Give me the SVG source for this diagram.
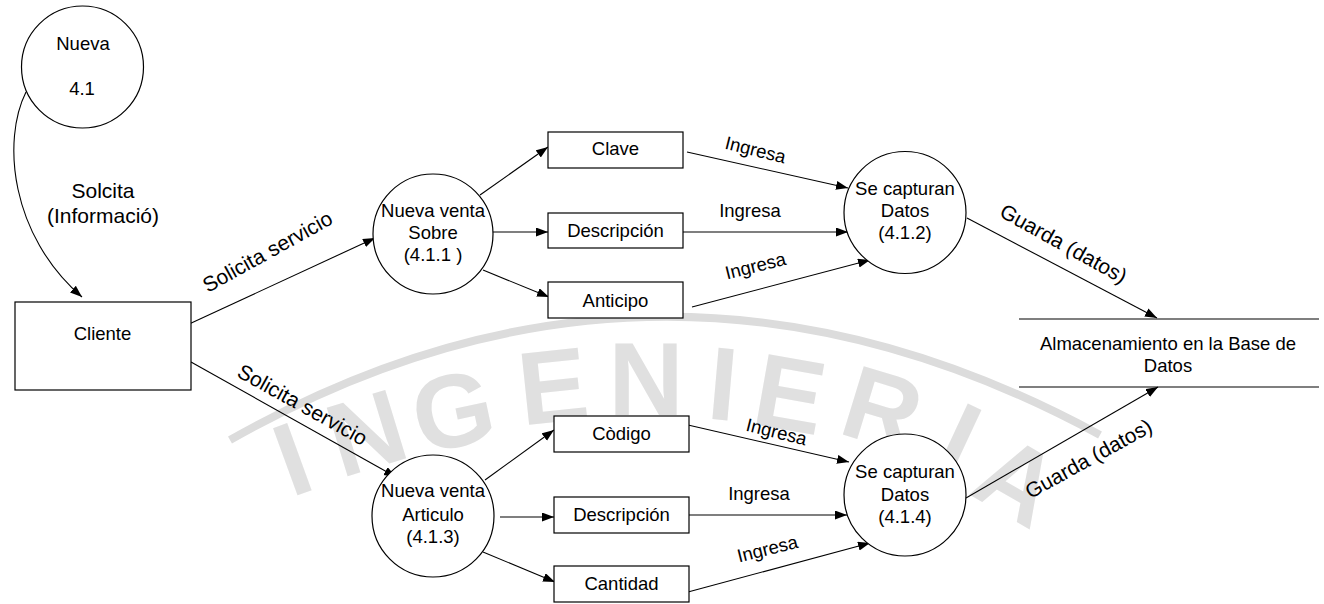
<svg xmlns="http://www.w3.org/2000/svg" width="1324" height="604" viewBox="0 0 1324 604">
<style>
.ln{fill:none;stroke:#000;stroke-width:1.1}
.bx{fill:#fff;stroke:#000;stroke-width:1.2}
.ci{fill:#fff;stroke:#000;stroke-width:1.2}
text{font-family:"Liberation Sans",Arial,sans-serif;fill:#000}
.t{font-size:18.5px;text-anchor:middle}
.l{font-size:21px;text-anchor:middle}
.wm{font-family:"Liberation Sans",Arial,sans-serif;font-size:104px;font-weight:bold;fill:#e0e0e0;text-anchor:middle}
</style>
<defs>
<marker id="ah" markerUnits="userSpaceOnUse" markerWidth="13" markerHeight="10" refX="12" refY="4.5" orient="auto">
<path d="M0,0 L12,4.5 L0,9 z" fill="#000"/>
</marker>
</defs>
<rect width="1324" height="604" fill="#fff"/>
<g id="watermark">
<path d="M230,440 Q660,196 1100,435" fill="none" stroke="#dcdcdc" stroke-width="8"/>
<text class="wm" transform="translate(292,458) rotate(-20)" y="37">I</text>
<text class="wm" transform="translate(366,432) rotate(-17)" y="37">N</text>
<text class="wm" transform="translate(453,410) rotate(-12)" y="37">G</text>
<text class="wm" transform="translate(553,385) rotate(-6)" y="37">E</text>
<text class="wm" transform="translate(646,378) rotate(0)" y="37">N</text>
<text class="wm" transform="translate(723,383) rotate(5)" y="37">I</text>
<text class="wm" transform="translate(790,393) rotate(10)" y="37">E</text>
<text class="wm" transform="translate(883,408) rotate(17)" y="37">R</text>
<text class="wm" transform="translate(960,438) rotate(25)" y="37">I</text>
<text class="wm" transform="translate(1018,480) rotate(30)" y="37">A</text>
</g>
<g id="connectors">
<path class="ln" d="M26,92 C2,140 10,235 82,297" marker-end="url(#ah)"/>
<line class="ln" x1="187" y1="325" x2="375" y2="238" marker-end="url(#ah)"/>
<line class="ln" x1="191" y1="362" x2="396" y2="477" marker-end="url(#ah)"/>
<line class="ln" x1="480" y1="195" x2="548" y2="147" marker-end="url(#ah)"/>
<line class="ln" x1="493" y1="232" x2="548" y2="232" marker-end="url(#ah)"/>
<line class="ln" x1="483" y1="270" x2="549" y2="297" marker-end="url(#ah)"/>
<line class="ln" x1="687" y1="152" x2="848" y2="188" marker-end="url(#ah)"/>
<line class="ln" x1="683" y1="232" x2="848" y2="232" marker-end="url(#ah)"/>
<line class="ln" x1="692" y1="307" x2="870" y2="260" marker-end="url(#ah)"/>
<line class="ln" x1="967" y1="218" x2="1157" y2="318" marker-end="url(#ah)"/>
<line class="ln" x1="485" y1="480" x2="554" y2="430" marker-end="url(#ah)"/>
<line class="ln" x1="500" y1="517" x2="554" y2="517" marker-end="url(#ah)"/>
<line class="ln" x1="483" y1="552" x2="555" y2="582" marker-end="url(#ah)"/>
<line class="ln" x1="688" y1="425" x2="849" y2="462" marker-end="url(#ah)"/>
<line class="ln" x1="689" y1="515" x2="847" y2="515" marker-end="url(#ah)"/>
<line class="ln" x1="688" y1="592" x2="870" y2="543" marker-end="url(#ah)"/>
<line class="ln" x1="966" y1="498" x2="1158" y2="387" marker-end="url(#ah)"/>
<text class="l" x="103" y="198">Solcita</text>
<text class="l" x="103" y="223">(Informació)</text>
<text class="l" transform="translate(271,258) rotate(-29)">Solicita servicio</text>
<text class="l" transform="translate(299,411) rotate(29)">Solicita servicio</text>
<text class="t" transform="translate(754,156) rotate(14)">Ingresa</text>
<text class="t" x="750" y="217">Ingresa</text>
<text class="t" transform="translate(757,272) rotate(-14)">Ingresa</text>
<text class="t" transform="translate(775,438) rotate(14)">Ingresa</text>
<text class="t" x="759" y="500">Ingresa</text>
<text class="t" transform="translate(769,555) rotate(-14)">Ingresa</text>
<text class="l" transform="translate(1060,250) rotate(29)">Guarda (datos)</text>
<text class="l" transform="translate(1092,465) rotate(-29)">Guarda (datos)</text>
</g>
<g id="n41">
<circle class="ci" cx="82.5" cy="67" r="61"/>
<text class="t" x="83" y="50">Nueva</text>
<text class="t" x="82" y="95">4.1</text>
</g>
<g id="cliente">
<rect class="bx" x="15" y="302" width="176" height="88"/>
<text class="t" x="102.5" y="340">Cliente</text>
</g>
<g id="n411">
<circle class="ci" cx="433" cy="234" r="60"/>
<text class="t" x="433" y="217">Nueva venta</text>
<text class="t" x="433" y="239">Sobre</text>
<text class="t" x="433" y="261">(4.1.1 )</text>
</g>
<g id="clave">
<rect class="bx" x="548" y="132" width="135" height="36"/>
<text class="t" x="615.5" y="155">Clave</text>
</g>
<g id="desc1">
<rect class="bx" x="548" y="213" width="135" height="35"/>
<text class="t" x="615.5" y="237">Descripción</text>
</g>
<g id="anticipo">
<rect class="bx" x="548" y="282" width="135" height="36"/>
<text class="t" x="615.5" y="307">Anticipo</text>
</g>
<g id="n412">
<circle class="ci" cx="905" cy="212.5" r="61"/>
<text class="t" x="905" y="195">Se capturan</text>
<text class="t" x="905" y="217">Datos</text>
<text class="t" x="905" y="239">(4.1.2)</text>
</g>
<g id="store">
<line class="ln" x1="1019" y1="319" x2="1319" y2="319"/>
<line class="ln" x1="1019" y1="387" x2="1319" y2="387"/>
<text class="t" x="1168" y="350">Almacenamiento en la Base de</text>
<text class="t" x="1168" y="372">Datos</text>
</g>
<g id="n413">
<circle class="ci" cx="433" cy="516" r="61"/>
<text class="t" x="433" y="497">Nueva venta</text>
<text class="t" x="433" y="521">Articulo</text>
<text class="t" x="433" y="543">(4.1.3)</text>
</g>
<g id="codigo">
<rect class="bx" x="554" y="416" width="135" height="36"/>
<text class="t" x="621.5" y="440">Còdigo</text>
</g>
<g id="desc2">
<rect class="bx" x="554" y="497" width="135" height="36"/>
<text class="t" x="621.5" y="521">Descripción</text>
</g>
<g id="cantidad">
<rect class="bx" x="554" y="566" width="135" height="36"/>
<text class="t" x="621.5" y="590">Cantidad</text>
</g>
<g id="n414">
<circle class="ci" cx="905" cy="495" r="61"/>
<text class="t" x="905" y="478">Se capturan</text>
<text class="t" x="905" y="501">Datos</text>
<text class="t" x="905" y="523">(4.1.4)</text>
</g>
</svg>
